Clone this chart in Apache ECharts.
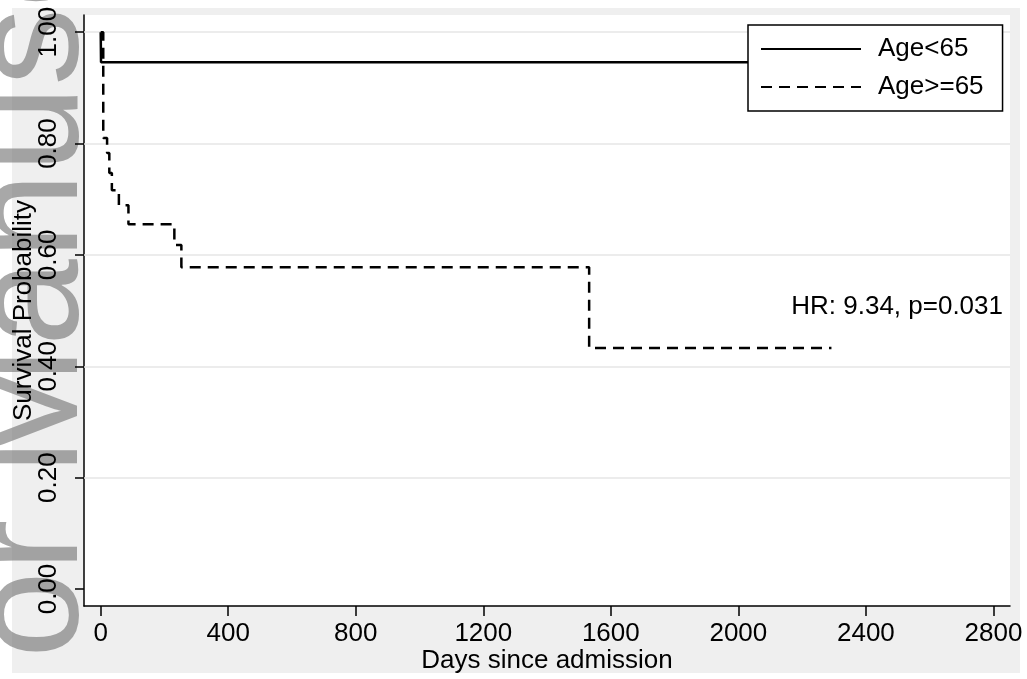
<!DOCTYPE html>
<html lang="en">
<head>
    <meta charset="utf-8">
    <title>Survival by age group</title>
    <script src="https://cdn.jsdelivr.net/npm/echarts@6.0.0/dist/echarts.min.js"></script>
    <style>
        * { margin: 0; padding: 0; }
        body { background: #fff; }
        #chart { width: 1027px; height: 679px; }
    </style>
</head>
<body>
<div id="chart"></div>
<script>
    // Kaplan-Meier steps (day, survival after that day)
    const daysYoung = [0, 1, 2400];
    const survYoung = [1, 0.946, 0.946];
    const daysOld = [0, 8, 20, 27, 35, 57, 87, 231, 253, 1532, 2292];
    const survOld = [1, 0.81, 0.783, 0.747, 0.716, 0.689, 0.655, 0.618, 0.578, 0.433, 0.433];

    const groupNames = ['Age<65', 'Age>=65'];
    const xTicks = [0, 400, 800, 1200, 1600, 2000, 2400, 2800];
    const yTicks = [0, 0.2, 0.4, 0.6, 0.8, 1.0];
    const gridValues = [0.2, 0.4, 0.6, 0.8, 1.0];
    const hrText = 'HR: 9.34, p=0.031';
    const watermarkText = 'or Manuscript';

    const font = "'Liberation Sans', Arial, Helvetica, sans-serif";
    const chart = echarts.init(document.getElementById('chart'), null, { renderer: 'canvas' });

    const pairs = (xs, ys) => xs.map((x, i) => [x, ys[i]]);

    const option = {
        animation: false,
        backgroundColor: '#fff',
        textStyle: { fontFamily: font },
        grid: {
            left: 84, top: 15, right: 17, bottom: 73,
            show: true, backgroundColor: '#fff', borderWidth: 0,
            containLabel: false, outerBoundsMode: 'none'
        },
        graphic: [
            {
                type: 'rect', z: -100, silent: true,
                shape: { x: 12, y: 8, width: 1008, height: 665 },
                style: { fill: '#efefef' }
            },
            {
                // watermark, cut by the left edge
                type: 'text', z: -50, silent: true,
                x: 34, y: 658, rotation: Math.PI / 2,
                style: {
                    text: watermarkText,
                    font: "156px " + font,
                    fill: 'rgba(110,110,110,0.6)',
                    textAlign: 'left', textVerticalAlign: 'middle'
                }
            },
            {
                type: 'text', z: 10, silent: true,
                x: 1003, y: 307,
                style: {
                    text: hrText, font: "26px " + font, fill: '#000',
                    textAlign: 'right', textVerticalAlign: 'middle'
                }
            }
        ],
        legend: {
            data: groupNames,
            orient: 'vertical',
            left: 748, top: 25,
            padding: [11, 19, 11, 12],
            itemWidth: 100, itemHeight: 26, itemGap: 12,
            backgroundColor: '#fff',
            borderColor: '#000', borderWidth: 1.5,
            itemStyle: { opacity: 0 },
            textStyle: { fontSize: 26, color: '#000', fontFamily: font, padding: [0, 0, 0, 12], lineHeight: 26 }
        },
        xAxis: {
            type: 'value',
            min: -52.4, max: 2852,
            name: 'Days since admission',
            nameLocation: 'middle', nameGap: 42, nameMoveOverlap: false,
            nameTextStyle: { fontSize: 26, color: '#000', fontFamily: font },
            axisLine: { show: true, onZero: false, lineStyle: { color: '#000', width: 1.5 } },
            axisTick: { show: true, length: 10, customValues: xTicks, lineStyle: { color: '#000', width: 1.5 } },
            axisLabel: {
                fontSize: 26, color: '#000', margin: 15, customValues: xTicks, fontFamily: font,
                formatter: v => String(v)
            },
            splitLine: { show: false }
        },
        yAxis: {
            type: 'value',
            min: -0.0305, max: 1.0309,
            name: 'Survival Probability',
            nameLocation: 'middle', nameGap: 47, nameRotate: 90, nameMoveOverlap: false,
            nameTextStyle: { fontSize: 26, color: '#000', fontFamily: font },
            axisLine: { show: true, onZero: false, lineStyle: { color: '#000', width: 1.5 } },
            axisTick: { show: true, length: 9, customValues: yTicks, lineStyle: { color: '#000', width: 1.5 } },
            axisLabel: {
                fontSize: 26, color: '#000', margin: 22, rotate: 90, fontFamily: font,
                customValues: yTicks,
                formatter: v => v.toFixed(2)
            },
            splitLine: { show: false }
        },
        series: [
            {
                name: groupNames[0],
                type: 'line',
                step: 'end',
                data: pairs(daysYoung, survYoung),
                symbol: 'none',
                lineStyle: { color: '#000', width: 2.5, type: 'solid' },
                itemStyle: { color: '#000' },
                z: 3,
                markLine: {
                    silent: true,
                    symbol: 'none',
                    label: { show: false },
                    lineStyle: { color: '#e6e6e6', width: 1.5, type: 'solid' },
                    data: gridValues.map(v => ({ yAxis: v })),
                    z: 1
                }
            },
            {
                name: groupNames[1],
                type: 'line',
                step: 'end',
                data: pairs(daysOld, survOld),
                symbol: 'none',
                lineStyle: { color: '#000', width: 2.5, type: [11, 7] },
                itemStyle: { color: '#000' },
                z: 3
            }
        ]
    };

    chart.setOption(option);
</script>
</body>
</html>
